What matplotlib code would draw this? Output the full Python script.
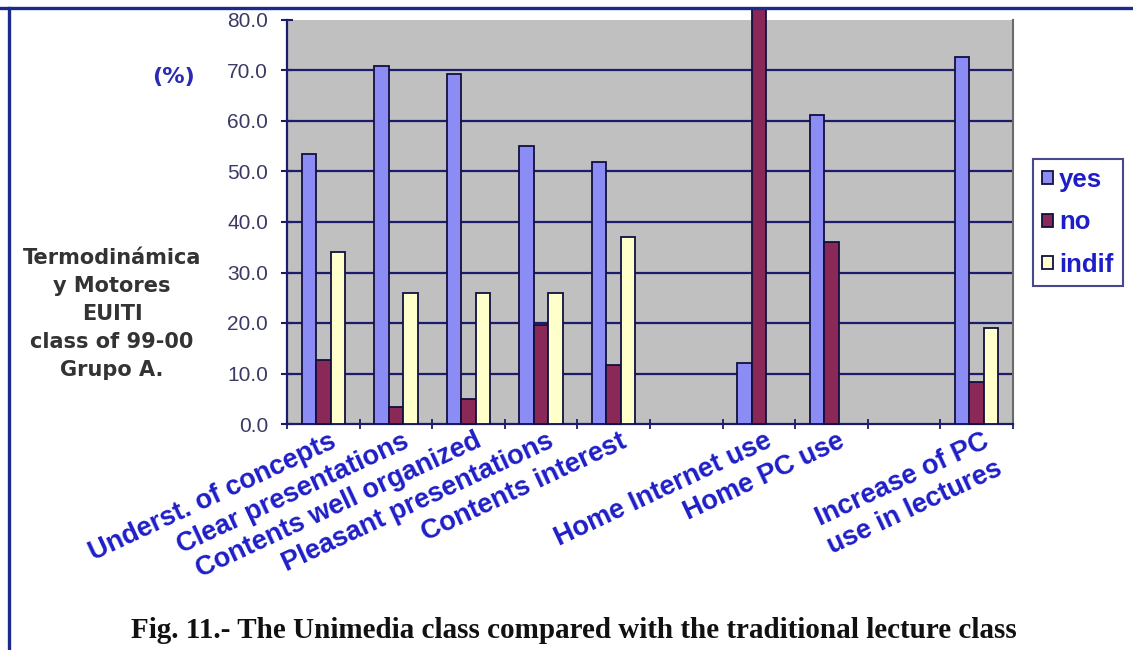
import numpy as np
import matplotlib
matplotlib.use('Agg')
import matplotlib.pyplot as plt
from matplotlib.patches import Rectangle
from matplotlib.lines import Line2D
import matplotlib.transforms as mtransforms

categories = ['Underst. of concepts', 'Clear presentations', 'Contents well organized',
              'Pleasant presentations', 'Contents interest', '', 'Home Internet use',
              'Home PC use', '', 'Increase of PC\nuse in lectures']
yes = [53.4, 70.9, 69.4, 55.0, 51.9, np.nan, 12.1, 61.1, np.nan, 72.6]
no = [12.7, 3.4, 5.0, 19.6, 11.6, np.nan, 87.9, 36.0, np.nan, 8.3]
indif = [34.1, 26.0, 26.0, 26.0, 37.0, np.nan, np.nan, np.nan, np.nan, 19.0]
series_names = ['yes', 'no', 'indif']
yticks = [0, 10, 20, 30, 40, 50, 60, 70, 80]

W, H = 1133, 650
fig = plt.figure(figsize=(W / 100, H / 100), dpi=100)
fig.patch.set_facecolor('white')

# plot area in pixels: x 287..1013, y 20..424
ax = fig.add_axes([287 / W, 1 - 424 / H, (1013 - 287) / W, (424 - 20) / H])
ax.set_facecolor('#c0c0c0')

navy = '#1c1c6c'
x = np.arange(len(categories))
bw = 0.2
colors = ['#8c8cf5', '#8a2858', '#ffffcc']
bars = []
for k, (vals, col, name) in enumerate(zip([yes, no, indif], colors, series_names)):
    b = ax.bar(x + (k - 1) * bw, vals, bw, color=col, edgecolor='#101040',
               linewidth=1.3, label=name, zorder=3)
    bars.append(b)

# the tall bar runs past the top of the scale
for patch in bars[1]:
    patch.set_clip_on(False)

ax.set_xlim(-0.5, len(categories) - 0.5)
ax.set_ylim(0, 80)
ax.set_yticks(yticks)
ax.set_yticklabels([f'{v:.1f}' for v in yticks])
# gridlines only between the bottom axis and the top edge
for v in yticks[1:-1]:
    ax.axhline(v, color=navy, linewidth=1.6, zorder=1)

for s in ['left', 'bottom']:
    ax.spines[s].set_color(navy)
    ax.spines[s].set_linewidth(1.6)
ax.spines['top'].set_visible(False)
ax.spines['right'].set_color('#6a6a6a')
ax.spines['right'].set_linewidth(1.5)

ax.tick_params(axis='y', direction='inout', length=9, width=1.5, color=navy,
               labelsize=15, labelcolor='#3a3a66', pad=9)
for lab in ax.get_yticklabels():
    lab.set_fontfamily('Liberation Sans')

ax.set_xticks(x)
ax.set_xticklabels(categories)
ax.set_xticks(np.arange(-0.5, len(categories)), minor=True)
ax.tick_params(axis='x', which='major', length=0, pad=3)
ax.tick_params(axis='x', which='minor', direction='inout', length=7, width=1.3, color=navy)
offset = mtransforms.ScaledTranslation(6 / 100, 0, fig.dpi_scale_trans)
for lab in ax.get_xticklabels():
    lab.set_rotation(25)
    lab.set_rotation_mode('anchor')
    lab.set_ha('right')
    lab.set_va('top')
    lab.set_multialignment('center')
    lab.set_fontfamily('Liberation Sans')
    lab.set_fontweight('bold')
    lab.set_fontsize(19.5)
    lab.set_color('#1e1ec8')
    lab.set_transform(lab.get_transform() + offset)

leg = ax.legend(loc='upper left', bbox_to_anchor=(1033 / W, 1 - 159 / H),
                bbox_transform=fig.transFigure, frameon=True, fancybox=False,
                handlelength=0.42, handleheight=0.42, handletextpad=0.25,
                labelspacing=0.72, borderpad=0.35, borderaxespad=0,
                prop={'family': 'Liberation Sans', 'weight': 'bold', 'size': 18.5})
leg.get_frame().set_edgecolor(navy)
leg.get_frame().set_linewidth(1.5)
for t in leg.get_texts():
    t.set_color('#1e1ec8')

fig.text(174 / W, 1 - 77 / H, '(%)', ha='center', va='center', fontsize=16,
         fontweight='bold', color='#2a2ab4', family='DejaVu Sans')
fig.text(112 / W, 1 - 314 / H, 'Termodinámica\ny Motores\nEUITI\nclass of 99-00\nGrupo A.',
         ha='center', va='center', fontsize=15, fontweight='bold', color='#333333',
         family='DejaVu Sans', linespacing=1.5, multialignment='center')
fig.text(574 / W, 1 - 631 / H,
         'Fig. 11.- The Unimedia class compared with the traditional lecture class',
         ha='center', va='center', fontsize=21, fontweight='bold', color='#111111',
         family='Liberation Serif')

# outer frame: white strip on top, navy rule on top and left
fig.add_artist(Rectangle((0, 1 - 8 / H), 1, 8 / H, transform=fig.transFigure,
                         facecolor='white', edgecolor='none', zorder=10))
fig.add_artist(Line2D([0, 1], [1 - 8 / H, 1 - 8 / H], transform=fig.transFigure,
                      color='#1c2a8c', linewidth=2.4, zorder=11))
fig.add_artist(Line2D([9 / W, 9 / W], [0, 1 - 8 / H], transform=fig.transFigure,
                      color='#1c2a8c', linewidth=2.4, zorder=11))

fig.savefig('out.png', dpi=100)
